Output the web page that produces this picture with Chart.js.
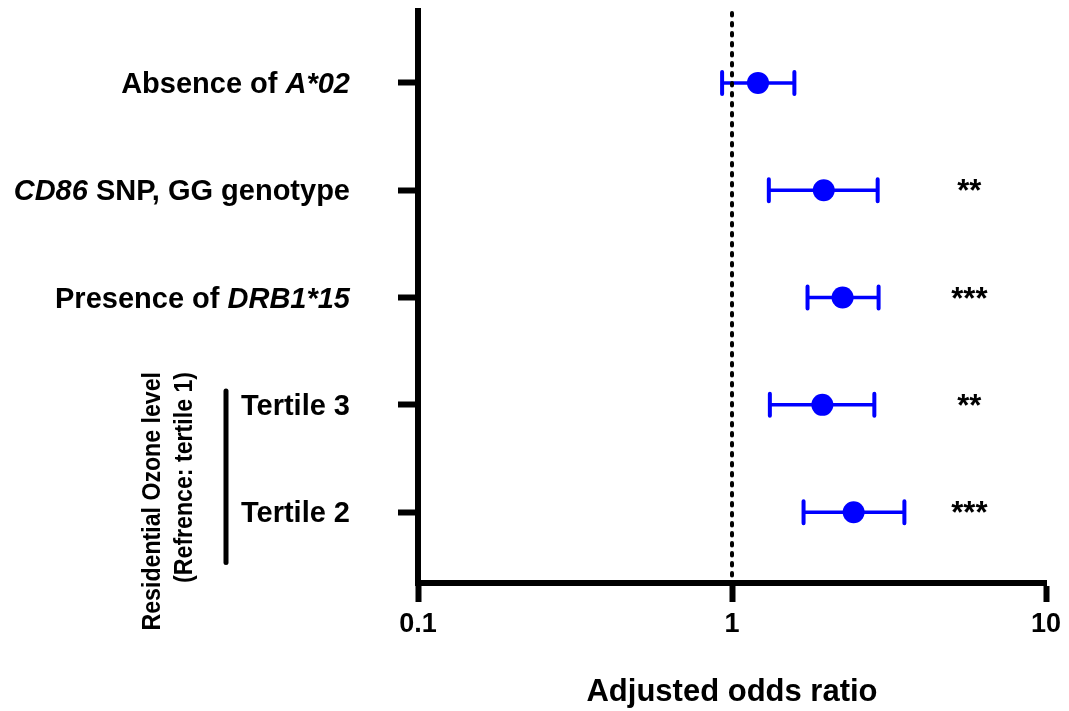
<!DOCTYPE html>
<html>
<head>
<meta charset="utf-8">
<script src="https://cdn.jsdelivr.net/npm/chart.js@4.4.0/dist/chart.umd.min.js"></script>
<style>
  html, body { margin: 0; padding: 0; background: #fff; }
  #wrap { width: 1069px; height: 711px; }
</style>
</head>
<body>
<div id="wrap"><canvas id="forest"></canvas></div>
<script>
// row labels, split into [text, italic] pieces
const labelParts = [
    [['Absence of ', false], ['A*02', true]],
    [['CD86', true], [' SNP, GG genotype', false]],
    [['Presence of ', false], ['DRB1*15', true]],
    [['Tertile 3', false]],
    [['Tertile 2', false]]
];
const oddsRatio = [1.21, 1.96, 2.25, 1.94, 2.44];
const ciLower = [0.93, 1.31, 1.74, 1.32, 1.69];
const ciUpper = [1.58, 2.91, 2.93, 2.84, 3.54];
const stars = ['', '**', '***', '**', '***'];
const starPos = 5.7;
const xTicks = [0.1, 1, 10];
const refValue = 1;
const groupLines = ['Residential Ozone level', '(Refrence: tertile 1)'];

const FONT = '"Liberation Sans", Arial, Helvetica, sans-serif';
const BLUE = '#0000ff';

const forestPlugin = {
    id: 'forest',
    beforeDatasetsDraw(chart) {
        const { ctx, chartArea } = chart;
        const x = chart.scales.x, y = chart.scales.y;
        ctx.save();
        // error bars
        ctx.strokeStyle = BLUE;
        oddsRatio.forEach((v, i) => {
            const py = y.getPixelForValue(i + 1);
            const x1 = x.getPixelForValue(ciLower[i]);
            const x2 = x.getPixelForValue(ciUpper[i]);
            ctx.lineWidth = 3.5;
            ctx.lineCap = 'butt';
            ctx.beginPath();
            ctx.moveTo(x1, py);
            ctx.lineTo(x2, py);
            ctx.stroke();
            ctx.lineWidth = 4;
            ctx.lineCap = 'round';
            ctx.beginPath();
            ctx.moveTo(x1, py - 11);
            ctx.lineTo(x1, py + 11);
            ctx.moveTo(x2, py - 11);
            ctx.lineTo(x2, py + 11);
            ctx.stroke();
        });
        // dotted reference line at OR = 1
        const rx = x.getPixelForValue(refValue);
        ctx.strokeStyle = '#000';
        ctx.lineWidth = 4;
        ctx.lineCap = 'round';
        ctx.setLineDash([2.5, 7.5]);
        ctx.beginPath();
        ctx.moveTo(rx, chartArea.top + 2);
        ctx.lineTo(rx, chartArea.bottom);
        ctx.stroke();
        ctx.restore();
    },
    afterDraw(chart) {
        const { ctx } = chart;
        const x = chart.scales.x, y = chart.scales.y;
        ctx.save();
        ctx.fillStyle = '#000';

        // row labels, right aligned, italic pieces
        const right = 350;
        labelParts.forEach((parts, i) => {
            const py = y.getPixelForValue(i + 1) + 10;
            let cx = right;
            for (let k = parts.length - 1; k >= 0; k--) {
                const [txt, it] = parts[k];
                ctx.font = (it ? 'italic ' : '') + 'bold 29px ' + FONT;
                const w = ctx.measureText(txt).width;
                cx -= w;
                ctx.textAlign = 'left';
                ctx.textBaseline = 'alphabetic';
                ctx.fillText(txt, cx, py);
            }
        });

        // significance stars
        ctx.font = 'bold 31px ' + FONT;
        ctx.textAlign = 'center';
        stars.forEach((s, i) => {
            if (!s) return;
            ctx.fillText(s, x.getPixelForValue(starPos), y.getPixelForValue(i + 1) + 11);
        });

        // group bracket for the tertiles
        ctx.strokeStyle = '#000';
        ctx.lineWidth = 5;
        ctx.lineCap = 'round';
        ctx.beginPath();
        ctx.moveTo(226, y.getPixelForValue(3.87));
        ctx.lineTo(226, y.getPixelForValue(5.47));
        ctx.stroke();

        // rotated group label
        ctx.font = 'bold 26px ' + FONT;
        ctx.textAlign = 'right';
        ctx.textBaseline = 'middle';
        groupLines.forEach((t, i) => {
            ctx.save();
            ctx.translate(153 + i * 32, 372);
            ctx.rotate(-Math.PI / 2);
            ctx.scale(0.89, 1);
            ctx.fillText(t, 0, 0);
            ctx.restore();
        });
        ctx.restore();
    }
};

const ctx = document.getElementById('forest').getContext('2d');
new Chart(ctx, {
    type: 'scatter',
    data: {
        datasets: [{
            data: oddsRatio.map((v, i) => ({ x: v, y: i + 1 })),
            backgroundColor: BLUE,
            borderWidth: 0,
            pointRadius: 11,
            pointHoverRadius: 11
        }]
    },
    options: {
        responsive: true,
        maintainAspectRatio: false,
        animation: false,
        events: [],
        layout: { padding: { top: 10, right: 23, left: 0, bottom: 0 } },
        plugins: {
            legend: { display: false },
            tooltip: { enabled: false }
        },
        scales: {
            x: {
                type: 'logarithmic',
                min: 0.1,
                max: 10,
                afterBuildTicks: (scale) => {
                    scale.ticks = xTicks.map(v => ({ value: v }));
                },
                afterFit: (scale) => { scale.height = 128; },
                grid: {
                    drawOnChartArea: false,
                    color: '#000',
                    tickLength: 19,
                    tickWidth: 6
                },
                border: { display: true, color: '#000', width: 6 },
                ticks: {
                    color: '#000',
                    font: { family: FONT, size: 27, weight: 'bold' },
                    padding: 6,
                    maxRotation: 0,
                    autoSkip: false,
                    callback: (v) => String(v)
                },
                title: {
                    display: true,
                    text: 'Adjusted odds ratio',
                    color: '#000',
                    font: { family: FONT, size: 31, weight: 'bold' },
                    padding: { top: 0, bottom: 0 }
                }
            },
            y: {
                type: 'linear',
                reverse: true,
                min: 0.33,
                max: 5.66,
                afterBuildTicks: (scale) => {
                    scale.ticks = labelParts.map((p, i) => ({ value: i + 1 }));
                },
                afterFit: (scale) => { scale.width = 418; },
                grid: {
                    drawOnChartArea: false,
                    color: '#000',
                    tickLength: 20,
                    tickWidth: 6
                },
                border: { display: true, color: '#000', width: 6 },
                ticks: { display: false }
            }
        }
    },
    plugins: [forestPlugin]
});
</script>
</body>
</html>
